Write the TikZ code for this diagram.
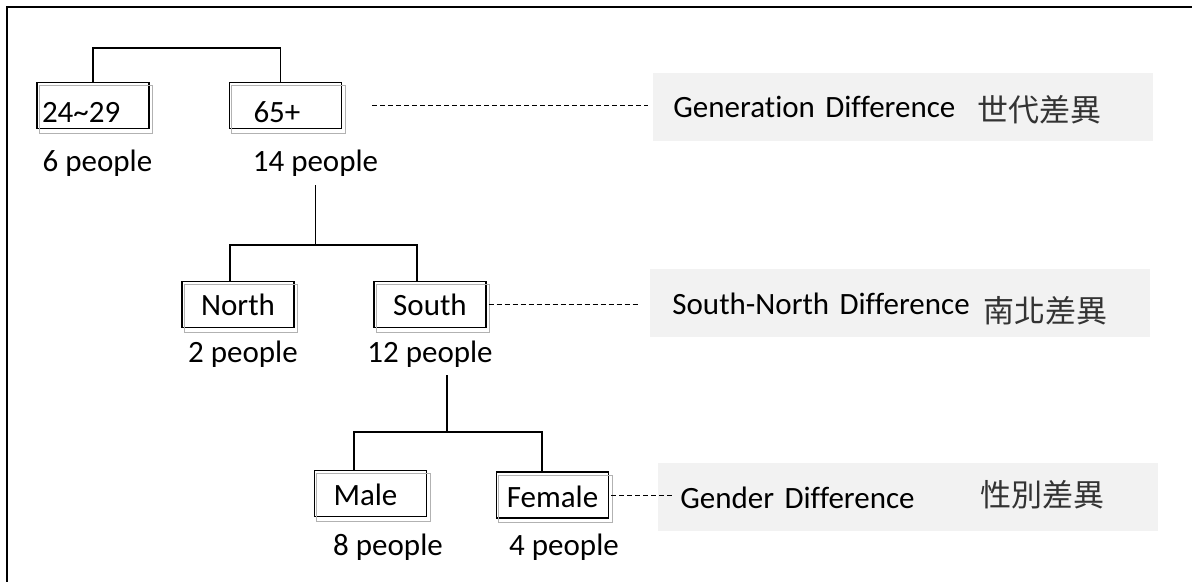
\documentclass[tikz,border=0pt]{standalone}
\usepackage{fontspec}
\setmainfont{Carlito}[Ligatures=NoCommon]
\newfontfamily\cjk{Noto Sans CJK TC}
\usetikzlibrary{positioning}
\begin{document}
\begin{tikzpicture}[x=0.5pt,y=-0.5pt,font=\fontsize{15.5}{18}\selectfont]
\tikzset{
  grpbox/.style={draw,line width=0.6pt,minimum width=56pt,minimum height=23pt,inner sep=0pt},
  grpboxl/.style={grpbox,text width=56pt,align=left},
  shadowline/.style={draw=black!30,line width=0.5pt},
  tree/.style={line width=0.9pt},
  dashline/.style={line width=0.5pt,dash pattern=on 2.5pt off 1.5pt},
  diffbox/.style={fill=black!5,minimum width=250pt,minimum height=34pt,text width=250pt,align=left,inner sep=0pt,anchor=north west},
  count/.style={inner sep=0pt,anchor=base},
  zh/.style={inner sep=0pt,anchor=base west,font=\fontsize{15.5}{18}\cjk,text=black!80},
}
\useasboundingbox (0,0) rectangle (1192,582);
% frame
\draw[line width=1pt] (7,582) -- (7,7) -- (1192,7);

% age groups
\node[grpboxl,text height=17pt,text depth=0pt] (young) at (93,105.5) {\hspace*{2.5pt}24\textasciitilde29};
\node[grpboxl,text height=17pt,text depth=0pt] (old) at (285.5,105.5) {\hspace*{12pt}65+};
\node[count] (youngn) at (97.5,172) {6 people};
\node[count] (oldn) at (315.5,172) {14 people};

% regions
\node[grpbox] (north) at (238,304.5) {North};
\node[grpbox] (south) at (430,304.5) {South};
\node[count] (northn) at (243,362) {2 people};
\node[count] (southn) at (430,362) {12 people};

% sexes
\node[grpboxl,text height=12pt,text depth=0pt] (male) at (370.5,493.5) {\hspace*{9.5pt}Male};
\node[grpbox,text height=12pt,text depth=0pt] (female) at (552.5,495) {Female};
\node[count] (malen) at (388,555) {8 people};
\node[count] (femalen) at (564,555) {4 people};

\foreach \b in {young,old,north,south,male,female}
  \draw[shadowline] ([shift={(3,4)}]\b.south west) rectangle ([shift={(3,4)}]\b.north east);

% tree
\coordinate (agetop) at (186,48);
\draw[tree] (young.north) |- (agetop) -| ([shift={(-5,0)}]old.north);

\coordinate (regsplit) at (316,245);
\draw[tree,shorten <=4pt] (oldn.south) -- (oldn.south |- regsplit);
\draw[tree] ([shift={(-8,0)}]north.north) |- (oldn.south |- regsplit) -| ([shift={(-13,0)}]south.north);

\coordinate (sexsplit) at (447,432);
\draw[tree,shorten <=4pt] ([shift={(17,0)}]southn.south) -- ([shift={(17,0)}]southn.south |- sexsplit);
\draw[tree] ([shift={(-16.5,0)}]male.north) |- (sexsplit) -| ([shift={(-10.5,0)}]female.north);

% differences
\node[diffbox] (gen) at (653,73) {\hspace*{10pt}Generation Difference};
\node[diffbox] (region) at (650,269) {\hspace*{11pt}South-North Difference};
\node[diffbox] (sex) at (658,463) {\hspace*{11pt}Gender Difference};
\node[zh] (genzh) at (977,122) {世代差異};
\node[zh] (regionzh) at (983,322) {南北差異};
\node[zh] (sexzh) at (980,506) {性別差異};

\draw[dashline] ([shift={(30,0)}]old.east) -- ([shift={(-5,0)}]old.east -| gen.west);
\draw[dashline] ([shift={(2,0)}]south.east) -- ([shift={(-10,0)}]south.east -| region.west);
\draw[dashline] ([shift={(2,0)}]female.east) -- ([shift={(14,0)}]female.east -| sex.west);
\end{tikzpicture}
\end{document}
